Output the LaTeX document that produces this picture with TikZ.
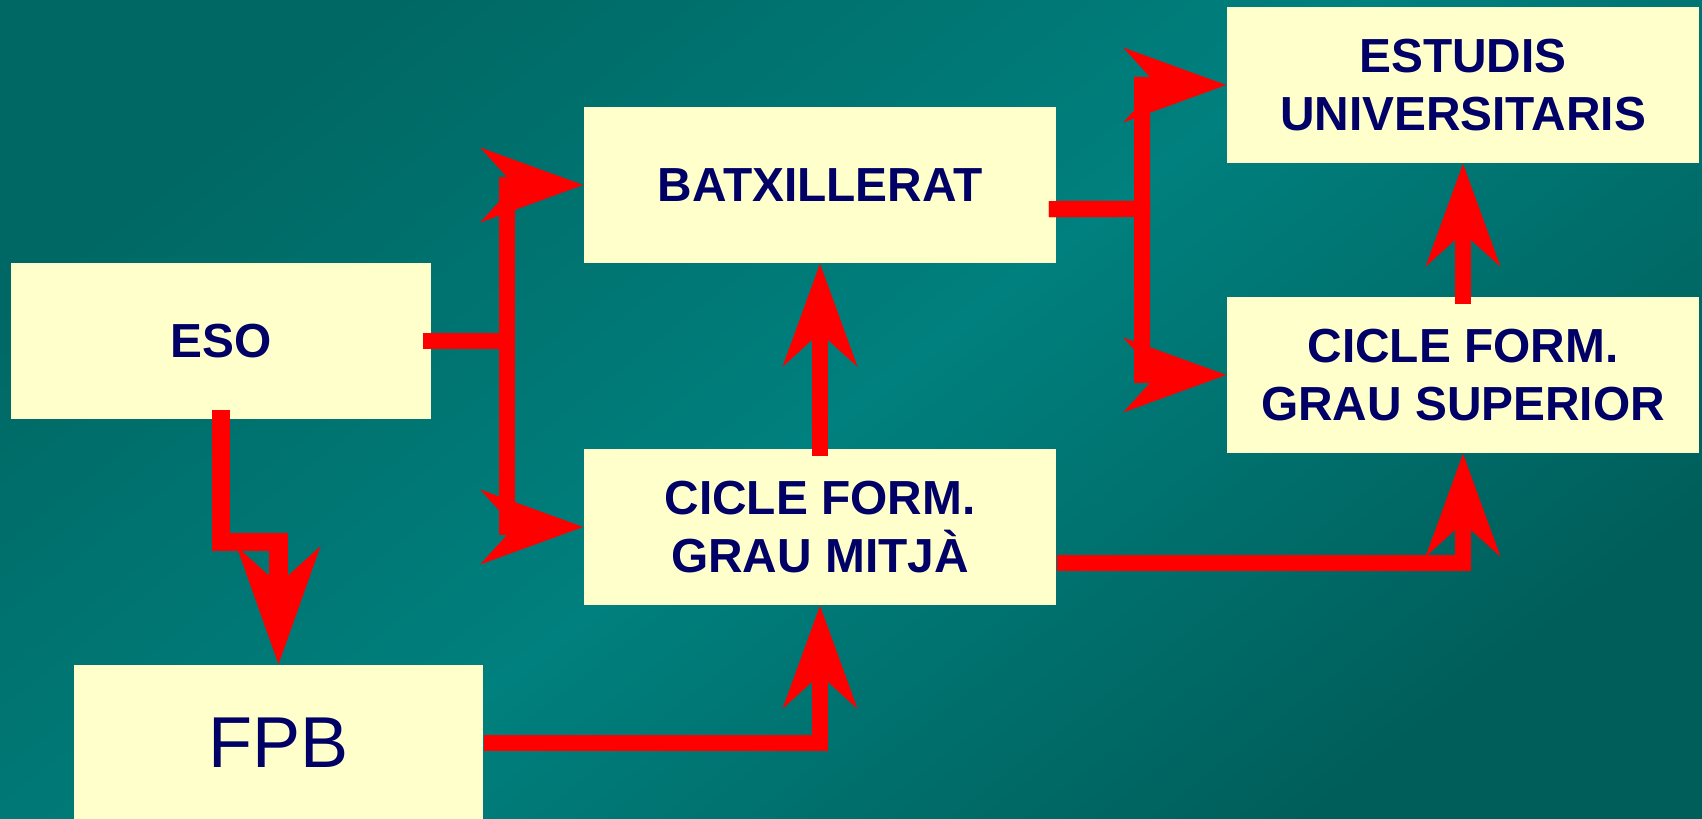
\documentclass[tikz,border=0pt]{standalone}
\usepackage{fontspec}
\setmainfont{Liberation Sans}
\usetikzlibrary{arrows.meta}
\definecolor{bgdark}{RGB}{0,104,100}
\definecolor{bglight}{RGB}{0,128,126}
\definecolor{bgdarktwo}{RGB}{0,94,90}
\definecolor{boxfill}{RGB}{255,255,204}
\definecolor{navytext}{RGB}{0,0,102}
\begin{document}
\begin{tikzpicture}[x=0.01cm,y=-0.01cm,
  box/.style={rectangle, fill=boxfill, text=navytext, minimum height=1.56cm, inner sep=0pt, align=center,
    font=\bfseries\fontsize{13.6}{16.5}\selectfont},
  conn/.style={draw=red, line width=0.16cm,
    -{Stealth[length=1.03cm,width=0.75cm,inset=0.34cm,line width=0pt]}},
  connthick/.style={draw=red, line width=0.185cm,
    -{Stealth[length=1.18cm,width=0.84cm,inset=0.38cm,line width=0pt]}}
]
\useasboundingbox (0,0) rectangle (1702,819);
\shade[left color=bgdark, right color=bgdarktwo, middle color=bglight, shading angle=38] (0,0) rectangle (1702,819);

\node[box, minimum width=4.20cm] (eso) at (221,341) {ESO};
\node[box, minimum width=4.72cm] (bat) at (820,185) {BATXILLERAT};
\node[box, minimum width=4.72cm] (mitja) at (820,527) {CICLE FORM.\\GRAU MITJÀ};
\node[box, minimum width=4.72cm] (univ) at (1463,85) {ESTUDIS\\UNIVERSITARIS};
\node[box, minimum width=4.72cm] (sup) at (1463,375) {CICLE FORM.\\GRAU SUPERIOR};
\node[box, minimum width=4.09cm, font=\fontsize{20.5}{24}\selectfont] (fpb) at (278.5,743) {FPB};

\coordinate (j1) at (507,341);
\coordinate (j2) at (1142,209);
\coordinate (j3) at (221,542);

\draw[conn, shorten <=-0.09cm] (eso.east) -- (j1) |- (bat.west);
\draw[conn, shorten <=-0.09cm] (eso.east) -- (j1) |- (mitja.west);
\draw[conn, shorten <=-0.08cm] ([yshift=-0.24cm]bat.east) -- (j2) |- (univ.west);
\draw[conn, shorten <=-0.08cm] ([yshift=-0.24cm]bat.east) -- (j2) |- (sup.west);
\draw[conn] ([yshift=-0.36cm]mitja.east) -| (sup.south);
\draw[conn, shorten <=-0.08cm] (mitja.north) -- (bat.south);
\draw[conn, shorten <=-0.08cm] (sup.north) -- (univ.south);
\draw[conn] (fpb.east) -| (mitja.south);
\draw[connthick, shorten <=-0.10cm] (eso.south) -- (j3) -| (fpb.north);
\end{tikzpicture}
\end{document}
